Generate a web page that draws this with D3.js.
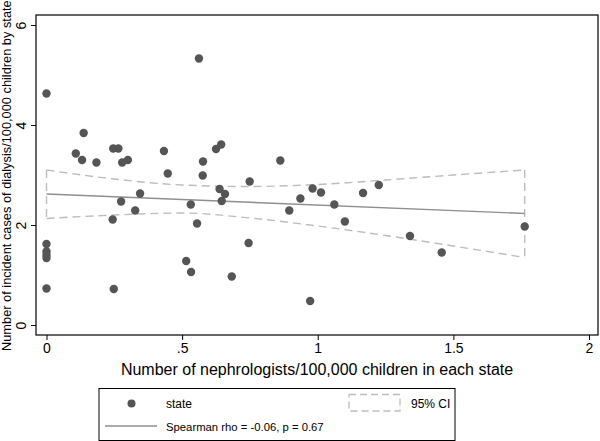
<!DOCTYPE html>
<html><head><meta charset="utf-8">
<script src="https://cdn.jsdelivr.net/npm/d3@7"></script>
<style>body{margin:0;background:#fff}text{font-family:"Liberation Sans",Arial,sans-serif;fill:#000}</style>
</head><body>
<svg id="c" width="600" height="441"></svg>
<script>
// nephrologists per 100,000 children (x) and incident dialysis cases per 100,000 children (y)
const stateX = [0,0,0,0,0,0,0.108,0.137,0.131,0.184,0.246,0.265,0.279,0.300,0.433,0.447,0.345,0.275,0.327,0.244,0.248,0.532,0.555,0.515,0.533,0.562,0.625,0.644,0.577,0.576,0.862,0.749,0.638,0.658,0.646,0.981,1.012,1.167,1.225,0.936,1.061,0.895,1.100,0.745,0.683,0.972,1.340,1.457,1.763];
const stateY = [4.63,1.62,1.47,1.40,1.34,0.73,3.43,3.84,3.30,3.25,3.53,3.53,3.25,3.30,3.48,3.03,2.63,2.47,2.29,2.11,0.72,2.41,2.03,1.28,1.06,5.33,3.52,3.61,3.27,2.99,3.29,2.87,2.72,2.62,2.48,2.73,2.65,2.64,2.80,2.53,2.41,2.29,2.07,1.64,0.97,0.48,1.78,1.45,1.97];
// fitted line and 95% CI
const fitX = [0, 1.763];
const fitY = [2.62, 2.23];
const ciX = [0, 0.25, 0.5, 0.75, 1.0, 1.25, 1.5, 1.763];
const ciUpper = [3.10, 2.92, 2.80, 2.77, 2.81, 2.90, 3.00, 3.10];
const ciLower = [2.13, 2.20, 2.24, 2.14, 1.98, 1.79, 1.58, 1.35];
const xTicks = [0, 0.5, 1, 1.5, 2];
const xTickLabels = ["0", ".5", "1", "1.5", "2"];
const yTicks = [0, 2, 4, 6];
const xTitle = "Number of nephrologists/100,000 children in each state";
const yTitle = "Number of incident cases of dialysis/100,000 children by state";
const legendLabels = ["state", "95% CI", "Spearman rho = -0.06, p = 0.67"];

const svg = d3.select("#c");
const box = {l:36, r:598, t:15, b:335};
const x = d3.scaleLinear().domain([0,2]).range([46.5,589]);
const y = d3.scaleLinear().domain([0,6]).range([325,25]);

svg.append("rect").attr("width",600).attr("height",441).attr("fill","#fff");

// CI polygon (dashed outline)
const ciPts = ciX.map((d,i)=>[x(d), y(ciUpper[i])]);
const loPts = ciX.map((d,i)=>[x(d), y(ciLower[i])]);
const line = d3.line().curve(d3.curveMonotoneX);
svg.append("path").attr("d", line(ciPts)).attr("fill","none").attr("stroke","#bdbdbd").attr("stroke-width",1.4).attr("stroke-dasharray","8,5");
svg.append("path").attr("d", line(loPts)).attr("fill","none").attr("stroke","#bdbdbd").attr("stroke-width",1.4).attr("stroke-dasharray","8,5");
[0, ciX.length-1].forEach(i=>{
  svg.append("line").attr("x1",x(ciX[i])).attr("x2",x(ciX[i]))
    .attr("y1",y(ciUpper[i])).attr("y2",y(ciLower[i]))
    .attr("stroke","#bdbdbd").attr("stroke-width",1.4).attr("stroke-dasharray","8,5");
});

// fitted line
svg.append("line").attr("x1",x(fitX[0])).attr("x2",x(fitX[1])).attr("y1",y(fitY[0])).attr("y2",y(fitY[1]))
  .attr("stroke","#8f8f8f").attr("stroke-width",1.4);

// points
svg.append("g").selectAll("circle").data(stateX.map((d,i)=>[d,stateY[i]])).join("circle")
  .attr("cx",d=>x(d[0])).attr("cy",d=>y(d[1])).attr("r",4.2).attr("fill","#555555");

// frame
svg.append("rect").attr("x",box.l).attr("y",box.t).attr("width",box.r-box.l).attr("height",box.b-box.t)
  .attr("fill","none").attr("stroke","#000").attr("stroke-width",1.2);

// x axis
const xa = svg.append("g").attr("transform",`translate(0,${box.b})`)
  .call(d3.axisBottom(x).tickValues(xTicks).tickSize(5).tickPadding(3).tickFormat((d,i)=>xTickLabels[i]));
xa.select(".domain").remove();
xa.selectAll("line").attr("stroke","#000");
xa.selectAll("text").attr("font-size",14).attr("font-family","Liberation Sans, Arial, sans-serif").attr("fill","#000");

// y axis
const ya = svg.append("g").attr("transform",`translate(${box.l},0)`)
  .call(d3.axisLeft(y).tickValues(yTicks).tickSize(5).tickFormat(d3.format("d")));
ya.select(".domain").remove();
ya.selectAll("line").attr("stroke","#000");
ya.selectAll("text").attr("font-size",14).attr("font-family","Liberation Sans, Arial, sans-serif").attr("fill","#000")
  .attr("x",null).attr("dy",null).attr("text-anchor","middle")
  .attr("transform","translate(-10,0) rotate(-90)").attr("dy","0");

// titles
svg.append("text").attr("x",(box.l+box.r)/2).attr("y",375).attr("text-anchor","middle").attr("font-size",16).text(xTitle);
svg.append("text").attr("transform","translate(11,351) rotate(-90)").attr("text-anchor","start").attr("font-size",12.8).text(yTitle);

// legend
const lg = svg.append("g");
lg.append("rect").attr("x",99).attr("y",388.5).attr("width",356).attr("height",52).attr("fill","#fff").attr("stroke","#000").attr("stroke-width",1);
lg.append("circle").attr("cx",131.5).attr("cy",403.5).attr("r",4).attr("fill","#555555");
lg.append("text").attr("x",166).attr("y",408).attr("font-size",12).text(legendLabels[0]);
lg.append("rect").attr("x",349).attr("y",394.5).attr("width",51).attr("height",16.5).attr("fill","none")
  .attr("stroke","#bdbdbd").attr("stroke-width",1.3).attr("stroke-dasharray","7,4");
lg.append("text").attr("x",411).attr("y",408).attr("font-size",12).text(legendLabels[1]);
lg.append("line").attr("x1",105).attr("x2",157).attr("y1",426).attr("y2",426).attr("stroke","#8f8f8f").attr("stroke-width",1.3);
lg.append("text").attr("x",166).attr("y",430.5).attr("font-size",11.3).text(legendLabels[2]);
</script>
</body></html>
